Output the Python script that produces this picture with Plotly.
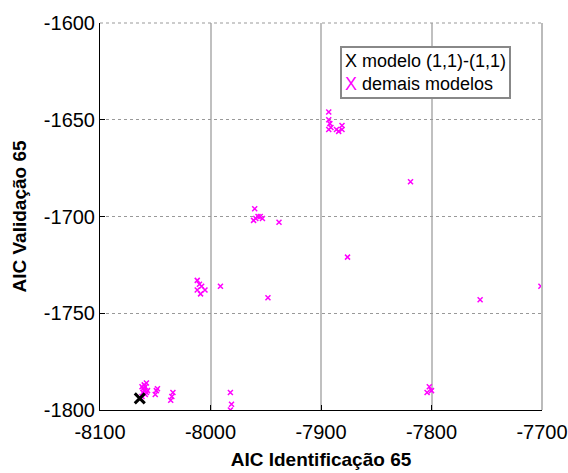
import plotly.graph_objects as go

# Best model (1,1)-(1,1)
best_x = [-8064]
best_y = [-1794]

# Other models
other_x = [
    -8062, -8061, -8060, -8059, -8058, -8060, -8061, -8059, -8057, -8062, -8058,
    -8048, -8050, -8049,
    -8034, -8036, -8035,
    -7982, -7981, -7982,
    -8012, -8010, -8012, -8009, -8005, -8008, -7991,
    -7948,
    -7960, -7961, -7957, -7953, -7959, -7955, -7938,
    -7876,
    -7893, -7893, -7892, -7891, -7893, -7886, -7881, -7881, -7884,
    -7819,
    -7802, -7800, -7804,
    -7756,
    -7701,
]
other_y = [
    -1793, -1791, -1790, -1788, -1786, -1787, -1789, -1792, -1790, -1788, -1791,
    -1789, -1792, -1790,
    -1791, -1795, -1793,
    -1791, -1797, -1800,
    -1733, -1735, -1738, -1740, -1738, -1736, -1736,
    -1742,
    -1696, -1702, -1700, -1701, -1701, -1700, -1703,
    -1721,
    -1646, -1650, -1652, -1654, -1655, -1655, -1655, -1653, -1656,
    -1682,
    -1788, -1790, -1791,
    -1743,
    -1736,
]

x_ticks = [-8100, -8000, -7900, -7800, -7700]
y_ticks = [-1800, -1750, -1700, -1650, -1600]

legend_labels = ["modelo (1,1)-(1,1)", "demais modelos"]

FONT = "Liberation Sans, Arial, sans-serif"

fig = go.Figure()
fig.add_trace(go.Scatter(
    x=other_x, y=other_y, mode="markers", name=legend_labels[1],
    marker=dict(symbol="x-thin", size=5, line=dict(color="#ff00ff", width=1.5)),
    showlegend=False,
))
fig.add_trace(go.Scatter(
    x=best_x, y=best_y, mode="markers", name=legend_labels[0],
    marker=dict(symbol="x-thin", size=10, line=dict(color="black", width=3)),
    showlegend=False,
))

# border lines (top/right) in gray like the reference
fig.add_shape(type="line", xref="paper", yref="paper", x0=0, x1=1, y0=1, y1=1,
              line=dict(color="#999999", width=1, dash="dot"))
fig.add_shape(type="line", xref="paper", yref="paper", x0=1, x1=1, y0=0, y1=1,
              line=dict(color="#bbbbbb", width=2))

fig.add_annotation(
    xref="paper", yref="paper", x=0.543, y=0.94, xanchor="left", yanchor="top",
    align="left", showarrow=False,
    text=("X " + legend_labels[0] + "<br>"
          "<span style='color:#ff00ff'>X</span> " + legend_labels[1]),
    font=dict(family=FONT, size=18, color="black"),
    bordercolor="#888888", borderwidth=2, borderpad=3, bgcolor="white",
)

fig.update_layout(
    width=568, height=473,
    margin=dict(l=100, r=26, t=23, b=63),
    paper_bgcolor="white", plot_bgcolor="white",
    font=dict(family=FONT, size=20, color="black"),
    xaxis=dict(
        range=[-8100, -7700], tickvals=x_ticks, ticktext=[str(v) for v in x_ticks],
        showgrid=True, gridcolor="#c0c0c0", gridwidth=1.5,
        showline=True, linecolor="black", linewidth=1,
        ticks="inside", ticklen=5, tickcolor="black",
        zeroline=False, ticklabelstandoff=4, automargin=False,
        tickfont=dict(size=20),
        title=dict(text="<b>AIC Identificação 65</b>", font=dict(size=19), standoff=10),
    ),
    yaxis=dict(
        range=[-1800, -1600], tickvals=y_ticks, ticktext=[str(v) for v in y_ticks],
        showgrid=True, gridcolor="#999999", griddash="dot", gridwidth=1,
        showline=True, linecolor="black", linewidth=1,
        ticks="inside", ticklen=5, tickcolor="black",
        zeroline=False, automargin=False,
        tickfont=dict(size=20),
        title=dict(text="<b>AIC Validação 65</b>", font=dict(size=19), standoff=12),
    ),
)

fig.write_html("out.html")
